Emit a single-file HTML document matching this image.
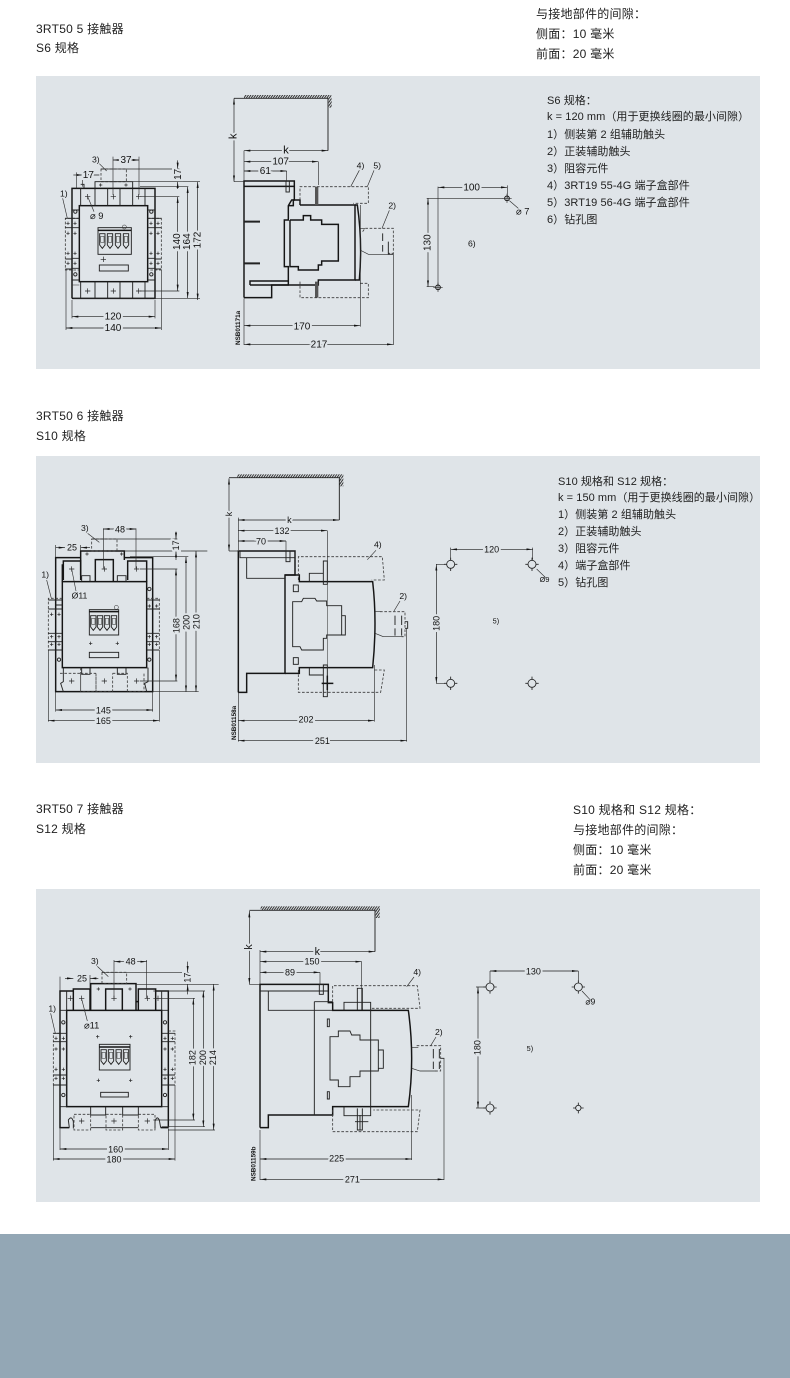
<!DOCTYPE html>
<html><head><meta charset="utf-8"><style>
html,body{margin:0;padding:0;background:#fff}
svg{display:block}
text{font-family:"Liberation Sans","Noto Sans CJK SC",sans-serif;fill:#222}
.h{font-size:12px;letter-spacing:.25px;-webkit-text-stroke:.35px #222}
.x{font-size:11px;letter-spacing:.06px;-webkit-text-stroke:.15px #222}
.n{font-size:27px;paint-order:stroke;stroke:#dfe4e8;stroke-width:12px;text-anchor:middle;fill:#111}
.g1 .n{font-size:30px}
.l{font-size:26px;fill:#111}
.s{font-size:19px;fill:#111;font-weight:bold}
.t{fill:none;stroke:#151515;stroke-width:4.4}
.m{fill:none;stroke:#222;stroke-width:2.8}
.f{fill:none;stroke:#333;stroke-width:1.6}
.d{fill:none;stroke:#3a3a3a;stroke-width:2.4;stroke-dasharray:8 5}
.a{fill:none;stroke:#1c1c1c;stroke-width:2;marker-start:url(#ar);marker-end:url(#ar)}
.o{fill:none;stroke:#1c1c1c;stroke-width:2;marker-end:url(#ar)}
.q{fill:none;stroke:#2a2a2a;stroke-width:1.9}
.g{fill:url(#hat);stroke:none}
</style></head><body>
<svg width="790" height="1378" viewBox="0 0 790 1378" xmlns="http://www.w3.org/2000/svg">
<defs>
<marker id="ar" markerUnits="userSpaceOnUse" markerWidth="20" markerHeight="10" refX="19" refY="5" orient="auto-start-reverse"><path d="M0 2L19 5L0 8Z" fill="#111"/></marker>
<pattern id="hat" width="6" height="6" patternUnits="userSpaceOnUse" patternTransform="rotate(35)"><rect width="3" height="6" fill="#333"/></pattern>
<g id="p"><path d="M-8 0H8M0 -8V8" stroke="#222" stroke-width="2" fill="none"/></g>
<g id="sp"><path d="M-5 0H5M0 -5V5" stroke="#222" stroke-width="2" fill="none"/></g>
<g id="fuse"><path class="m" d="M0 0H16V34L8 44L0 34Z"/><rect x="3" y="8" width="10" height="18" class="f"/></g>
</defs>
<rect x="36" y="76" width="724" height="293" fill="#dfe4e8"/>
<rect x="36" y="456" width="724" height="307" fill="#dfe4e8"/>
<rect x="36" y="889" width="724" height="313" fill="#dfe4e8"/>
<rect x="0" y="1234" width="790" height="144" fill="#93a7b5"/>

<!-- Headings -->
<text class="h" x="36" y="33">3RT50 5 接触器</text>
<text class="h" x="36" y="52">S6 规格</text>
<text class="h" x="36" y="420">3RT50 6 接触器</text>
<text class="h" x="36" y="440">S10 规格</text>
<text class="h" x="36" y="813">3RT50 7 接触器</text>
<text class="h" x="36" y="833">S12 规格</text>
<text class="h" x="536" y="18">与接地部件的间隙：</text>
<text class="h" x="536" y="38">侧面：10 毫米</text>
<text class="h" x="536" y="58">前面：20 毫米</text>
<text class="h" x="573" y="814">S10 规格和 S12 规格：</text>
<text class="h" x="573" y="834">与接地部件的间隙：</text>
<text class="h" x="573" y="854">侧面：10 毫米</text>
<text class="h" x="573" y="874">前面：20 毫米</text>

<!-- Notes -->
<g class="x">
<text x="547" y="104">S6 规格：</text>
<text x="547" y="120">k = 120 mm（用于更换线圈的最小间隙）</text>
<text x="547" y="138">1）侧装第 2 组辅助触头</text>
<text x="547" y="155">2）正装辅助触头</text>
<text x="547" y="172">3）阻容元件</text>
<text x="547" y="189">4）3RT19 55-4G 端子盒部件</text>
<text x="547" y="206">5）3RT19 56-4G 端子盒部件</text>
<text x="547" y="223">6）钻孔图</text>
<text x="558" y="485">S10 规格和 S12 规格：</text>
<text x="558" y="501">k = 150 mm（用于更换线圈的最小间隙）</text>
<text x="558" y="518">1）侧装第 2 组辅助触头</text>
<text x="558" y="535">2）正装辅助触头</text>
<text x="558" y="552">3）阻容元件</text>
<text x="558" y="569">4）端子盒部件</text>
<text x="558" y="586">5）钻孔图</text>
</g>

<!-- Panel 1 -->
<g class="g1" transform="translate(40,85) scale(.33333)">
<!-- front -->
<path class="t" d="M96 640V310H345V640H96"/>
<rect class="t" x="118" y="362" width="205" height="228"/>
<path class="m" d="M122 362V310M165 362V310M203 362V310M240 362V310M278 362V310M315 362V310M122 590V640M165 590V640M203 590V640M240 590V640M278 590V640M315 590V640"/>
<path class="m" d="M165 310V290H278V310M122 298H132V310"/>
<rect class="d" x="183" y="252" width="76" height="38"/>
<path class="d" d="M118 400H76V555H118M323 400H364V555H323"/>
<path class="m" d="M96 375H118M96 400H118M96 428H118M96 520H118M96 550H118M96 585H118M323 375H345M323 400H345M323 428H345M323 520H345M323 550H345M323 585H345M345 400H364M345 428H364M345 522H364M345 552H364M76 400H96M76 428H96M76 522H96M76 552H96"/>
<path class="f" d="M96 600H118M96 590"/>
<use href="#sp" x="84" y="415"/><use href="#sp" x="105" y="415"/><use href="#sp" x="84" y="445"/><use href="#sp" x="105" y="445"/><use href="#sp" x="84" y="505"/><use href="#sp" x="105" y="505"/><use href="#sp" x="84" y="535"/><use href="#sp" x="105" y="535"/>
<use href="#sp" x="333" y="415"/><use href="#sp" x="354" y="415"/><use href="#sp" x="333" y="445"/><use href="#sp" x="354" y="445"/><use href="#sp" x="333" y="505"/><use href="#sp" x="354" y="505"/><use href="#sp" x="333" y="535"/><use href="#sp" x="354" y="535"/>
<circle class="m" cx="106" cy="380" r="5"/><circle class="m" cx="106" cy="568" r="5"/><circle class="m" cx="334" cy="380" r="5"/><circle class="m" cx="334" cy="568" r="5"/>
<use href="#p" x="143" y="335"/><use href="#p" x="220" y="335"/><use href="#p" x="296" y="335"/>
<use href="#p" x="143" y="618"/><use href="#p" x="220" y="618"/><use href="#p" x="296" y="618"/>
<use href="#sp" x="182" y="300"/><use href="#sp" x="258" y="300"/>
<rect class="m" x="174" y="428" width="100" height="80"/>
<path class="t" d="M174 436H274"/>
<use href="#fuse" x="179" y="446"/><use href="#fuse" x="202" y="446"/><use href="#fuse" x="226" y="446"/><use href="#fuse" x="250" y="446"/>
<circle class="f" cx="253" cy="426" r="6"/>
<use href="#p" x="190" y="523"/>
<rect class="m" x="178" y="540" width="87" height="18"/>
<path class="q" d="M96 645V700M345 645V700M78 555V735M364 555V735M219 215V330M297 215V330M110 262V310M128 262V305"/>
<path class="q" d="M183 252H418M165 290H480M300 305H445M300 335H418M300 618H418M100 640H480"/>
<path class="a" d="M96 695H345"/><text class="n" x="219" y="704">120</text>
<path class="a" d="M78 729H364"/><text class="n" x="219" y="738">140</text>
<path class="a" d="M219 225H297"/><text class="n" x="258" y="234">37</text>
<path class="o" d="M100 270H128"/><path class="o" d="M178 270H128"/><text class="n" x="145" y="279">17</text>
<path class="o" d="M413 226V252"/><path class="o" d="M413 312V290"/><text class="n" transform="translate(423,268) rotate(-90)">17</text>
<path class="a" d="M413 335V618"/><text class="n" transform="translate(420,470) rotate(-90)">140</text>
<path class="a" d="M443 305V640"/><text class="n" transform="translate(450,470) rotate(-90)">164</text>
<path class="a" d="M473 290V645"/><text class="n" transform="translate(481,465) rotate(-90)">172</text>
<text class="l" x="156" y="232">3)</text><path class="q" d="M178 236L200 258"/>
<text class="l" x="60" y="334">1)</text><path class="q" d="M68 340L82 400"/>
<text class="l" x="150" y="402" style="font-size:28px">⌀ 9</text><path class="q" d="M143 335L162 380"/>
<!-- side -->
<path class="t" d="M612 638V288H763V345H755L745 362V405H733V545H745V600H695V638H612"/>
<path class="t" d="M630 600H745M780 360H945V585H835V600H745"/>
<path class="t" d="M745 362H760V345H780V360M945 360L952 360Q968 470 958 585H945M630 600V588H745"/>
<path class="t" d="M612 304H763"/>
<path class="t" d="M750 405H790V392H812V405H845V418H895V528H845V540H835V555H775V545H750V405"/>
<path d="M612 410H660M612 535H660" stroke="#222" stroke-width="6"/>
<path d="M830 305V360M830 590V638" stroke="#555" stroke-width="10"/>
<rect class="m" x="738" y="288" width="10" height="33"/>
<path class="d" d="M780 345V305H985L985 355H940M780 590V638H985L985 595H958"/>
<path class="q" d="M960 430H975M960 495L985 508H1048"/>
<path class="d" d="M968 440L975 430H1060V505H1045"/>
<path class="m" d="M1028 445V468M1028 480V500M1045 470V508H1060"/>
<rect class="g" x="612" y="30" width="262" height="10"/>
<path class="m" d="M582 40H864V197M864 40V66"/><rect class="g" x="866" y="40" width="9" height="28"/>
<path class="q" d="M582 290H612M612 197V288M835 230V300M740 258V290M612 640V780M961 360V725M1060 505V780"/>
<path class="a" d="M582 40V290"/><text class="n" transform="translate(590,154) rotate(-90)" style="font-size:34px">k</text>
<path class="a" d="M612 197H864"/><text class="n" x="738" y="206" style="font-size:34px">k</text>
<path class="a" d="M612 230H835"/><text class="n" x="722" y="239">107</text>
<path class="a" d="M612 258H740"/><text class="n" x="676" y="267">61</text>
<path class="a" d="M612 722H961"/><text class="n" x="786" y="733">170</text>
<path class="a" d="M612 778H1060"/><text class="n" x="837" y="788">217</text>
<text class="s" transform="translate(600,780) rotate(-90)">NSB01171a</text>
<text class="l" x="950" y="250">4)</text><path class="q" d="M958 256L932 305"/>
<text class="l" x="1000" y="250">5)</text><path class="q" d="M1002 256L982 305"/>
<text class="l" x="1045" y="370">2)</text><path class="q" d="M1048 376L1026 430"/>
</g>
<!-- Drill 1 -->
<g class="g1" transform="translate(420,170) scale(.33333)">
<path class="q" d="M54 50V350M262 46V85M20 85H250M20 350H44M268 92L295 115"/>
<path class="a" d="M54 52H262"/><text class="n" x="155" y="62">100</text>
<path class="a" d="M24 85V350"/><text class="n" transform="translate(32,218) rotate(-90)">130</text>
<circle cx="54" cy="352" r="7" fill="none" stroke="#111" stroke-width="3"/><path class="q" d="M40 352H68M54 338V366"/>
<circle cx="261" cy="85" r="7" fill="none" stroke="#111" stroke-width="3"/><path class="q" d="M247 85H275M261 71V99"/>
<text class="l" x="288" y="134" style="font-size:28px">⌀ 7</text>
<text class="l" x="144" y="229">6)</text>
</g>

<!-- Panel 2 -->
<g transform="translate(40,465) scale(.33333)">
<path class="t" d="M122 278H47V680H338V278H253M122 345V258H253V285"/>
<path class="t" d="M67 350H320V608H67Z"/>
<path class="t" d="M67 350V300H70V288H122M320 350V288H263V345M166 350V284H220V350M122 330V285M70 345V288"/>
<rect class="d" x="155" y="222" width="76" height="36"/>
<path class="d" d="M67 400H25V555H67M320 400H358V555H320"/>
<path class="m" d="M47 420H67M47 435M25 405H67M25 432H67M25 505H67M25 530H67M25 555H67M320 405H358M320 432H358M320 505H358M320 530H358M320 555H358"/>
<path class="m" d="M125 350V332H150V350M232 350V332H258V350M125 608V628H150V608M232 608V628H258V608M70 680L62 655L70 650V608M320 680L314 655L324 650V608"/>
<path class="d" d="M60 625H122V680M122 608V680H168V625M218 625H262V680H312V625M122 625H168M168 625V680H218V625"/>
<use href="#sp" x="35" y="448"/><use href="#sp" x="57" y="448"/><use href="#sp" x="35" y="515"/><use href="#sp" x="57" y="515"/><use href="#sp" x="35" y="538"/><use href="#sp" x="57" y="538"/><use href="#sp" x="328" y="423"/><use href="#sp" x="350" y="423"/><use href="#sp" x="328" y="515"/><use href="#sp" x="350" y="515"/><use href="#sp" x="328" y="538"/><use href="#sp" x="350" y="538"/>
<circle class="m" cx="57" cy="584" r="5"/><circle class="m" cx="328" cy="584" r="5"/><circle class="m" cx="328" cy="372" r="5"/>
<use href="#p" x="95" y="312"/><use href="#p" x="193" y="312"/><use href="#p" x="290" y="312"/>
<use href="#p" x="95" y="648"/><use href="#p" x="193" y="648"/><use href="#p" x="290" y="648"/>
<use href="#sp" x="141" y="267"/><use href="#sp" x="245" y="267"/>
<rect class="m" x="148" y="434" width="88" height="76"/><path class="t" d="M148 440H236"/>
<use href="#fuse" x="152" y="452"/><use href="#fuse" x="172" y="452"/><use href="#fuse" x="193" y="452"/><use href="#fuse" x="214" y="452"/>
<circle class="f" cx="229" cy="427" r="6"/>
<use href="#sp" x="152" y="535"/><use href="#sp" x="232" y="535"/>
<rect class="m" x="148" y="562" width="88" height="16"/>
<path class="q" d="M47 680V740M338 680V740M25 555V770M358 555V770M190 190V310M288 190V310M47 240V278M122 240V258"/>
<path class="q" d="M155 222H412M253 258H502M270 275H445M300 312H412M300 648H412M338 680H476"/>
<path class="a" d="M47 735H338"/><text class="n" x="190" y="745">145</text>
<path class="a" d="M25 767H358"/><text class="n" x="190" y="777">165</text>
<path class="a" d="M190 192H288"/><text class="n" x="240" y="202">48</text>
<path class="o" d="M47 248H75"/><path class="o" d="M150 248H122"/><text class="n" x="96" y="257">25</text>
<path class="o" d="M408 200V222"/><path class="o" d="M408 285V258"/><text class="n" transform="translate(417,241) rotate(-90)">17</text>
<path class="a" d="M408 312V648"/><text class="n" transform="translate(418,482) rotate(-90)">168</text>
<path class="a" d="M438 275V680"/><text class="n" transform="translate(448,472) rotate(-90)">200</text>
<path class="a" d="M468 258V680"/><text class="n" transform="translate(478,470) rotate(-90)">210</text>
<text class="l" x="123" y="198">3)</text><path class="q" d="M143 205L178 232"/>
<text class="l" x="4" y="338">1)</text><path class="q" d="M20 345L34 400"/>
<text class="l" x="95" y="400" style="font-size:26px">Ø11</text><path class="q" d="M95 312L108 378"/>
<!-- side -->
<path class="t" d="M595 682V258H765V330H735V625H620V682H595"/>
<path class="t" d="M735 330H778V350H998Q1012 470 998 608H778V625H735"/>
<path class="m" d="M620 278V340H735M600 258V278H765M765 258V285"/>
<path class="m" d="M758 410H785L790 400H825L830 408H860V422H905V510H860V520H850V555H785L780 545H758ZM905 452H916V510H905"/>
<path class="m" d="M808 350V325H850M808 608V630H850M862 288V358H850V288ZM862 600V695H850V600Z"/>
<rect class="m" x="760" y="360" width="15" height="20"/><rect class="m" x="760" y="578" width="15" height="20"/>
<rect class="m" x="738" y="258" width="12" height="32"/>
<path class="d" d="M775 345V275H1027L1033 345H995M775 615V682H1022L1033 615H1000"/>
<path class="f" d="M862 350V690"/>
<path class="t" d="M845 655H880M862 632V675"/>
<path class="q" d="M1005 440H1022M1005 505L1030 515H1090"/>
<path class="d" d="M1020 440H1095V478M1095 480V515H1085"/>
<path class="m" d="M1065 452V480M1065 490V512M1085 452V480M1085 490V512M1095 470H1103V490H1095"/>
<rect class="g" x="592" y="28" width="318" height="11"/>
<rect class="g" x="898" y="40" width="12" height="24"/>
<path class="m" d="M567 38H898V165"/>
<path class="q" d="M567 258H595M595 158V255M862 197V350M738 228V260M595 682V830M1003 600V770M1100 490V830"/>
<path class="a" d="M567 40V258"/><text class="n" transform="translate(576,147) rotate(-90)">k</text>
<path class="a" d="M595 165H898"/><text class="n" x="748" y="174">k</text>
<path class="a" d="M595 197H862"/><text class="n" x="726" y="207">132</text>
<path class="a" d="M595 228H738"/><text class="n" x="663" y="238">70</text>
<path class="a" d="M595 767H1003"/><text class="n" x="798" y="773">202</text>
<path class="a" d="M595 827H1100"/><text class="n" x="847" y="837">251</text>
<text class="s" transform="translate(588,825) rotate(-90)">NSB01158a</text>
<text class="l" x="1002" y="248">4)</text><path class="q" d="M1008 256L982 284"/>
<text class="l" x="1078" y="402">2)</text><path class="q" d="M1080 408L1062 438"/>
</g>
<!-- Drill 2 -->
<g transform="translate(425,535) scale(.33333)">
<path class="q" d="M77 38V74M323 38V74M33 88H60M33 445H60M335 102L362 128"/>
<path class="a" d="M77 43H323"/><text class="n" x="200" y="52">120</text>
<path class="a" d="M34 88V445"/><text class="n" transform="translate(43,265) rotate(-90)">180</text>
<g fill="none" stroke="#222" stroke-width="2.6">
<circle cx="77" cy="88" r="12"/><path d="M77 68V76M77 100V108M57 88H65M89 88H97"/>
<circle cx="321" cy="88" r="12"/><path d="M321 68V76M321 100V108M301 88H309M333 88H341"/>
<circle cx="77" cy="445" r="12"/><path d="M77 425V433M77 457V465M57 445H65M89 445H97"/>
<circle cx="321" cy="445" r="12"/><path d="M321 425V433M321 457V465M301 445H309M333 445H341"/>
</g>
<text class="l" x="344" y="141" style="font-size:22px">Ø9</text>
<text class="l" x="203" y="265" style="font-size:22px">5)</text>
</g>

<!-- Panel 3 -->
<g transform="translate(40,895) scale(.33333)">
<path class="t" d="M100 288H60V698H88M385 698V288H347M362 698H385"/>
<path class="t" d="M80 346H365V635H80Z"/>
<path class="t" d="M100 346V282H150V346M197 346V282H247V346M295 346V282H347V346M152 320V266H288V320H295M152 346V320M288 346V320"/>
<path class="m" d="M80 346V288M365 346V288M60 346H80M365 346H385M60 635H80M365 635H385"/>
<rect class="d" x="186" y="232" width="74" height="34"/>
<path class="d" d="M60 415H40V570H60M385 408H405V570H385"/>
<path class="m" d="M40 415H80M40 440H80M40 540H80M40 570H80M365 415H405M365 440H405M365 540H405M365 570H405M80 372V635"/>
<path class="m" d="M152 635V660H197V635M248 635V660H295V635M88 698L85 675Q95 660 100 680V700M362 698L358 675Q350 660 345 680V700M152 698H295"/>
<path class="d" d="M102 658H152V705H102ZM198 658H248V705H198ZM295 658H345V705H295Z"/>
<use href="#sp" x="48" y="430"/><use href="#sp" x="70" y="430"/><use href="#sp" x="48" y="462"/><use href="#sp" x="70" y="462"/><use href="#sp" x="48" y="523"/><use href="#sp" x="70" y="523"/><use href="#sp" x="48" y="550"/><use href="#sp" x="70" y="550"/>
<use href="#sp" x="375" y="430"/><use href="#sp" x="397" y="430"/><use href="#sp" x="375" y="462"/><use href="#sp" x="397" y="462"/><use href="#sp" x="375" y="523"/><use href="#sp" x="397" y="523"/><use href="#sp" x="375" y="550"/><use href="#sp" x="397" y="550"/>
<circle class="m" cx="70" cy="382" r="5"/><circle class="m" cx="70" cy="600" r="5"/><circle class="m" cx="375" cy="382" r="5"/><circle class="m" cx="375" cy="600" r="5"/>
<use href="#p" x="91" y="310"/><use href="#p" x="125" y="310"/><use href="#p" x="222" y="310"/><use href="#p" x="322" y="310"/><use href="#p" x="354" y="310"/>
<use href="#p" x="125" y="678"/><use href="#p" x="222" y="678"/><use href="#p" x="322" y="678"/>
<use href="#sp" x="175" y="282"/><use href="#sp" x="270" y="282"/>
<use href="#sp" x="173" y="425"/><use href="#sp" x="272" y="425"/><use href="#sp" x="175" y="556"/><use href="#sp" x="272" y="556"/>
<rect class="m" x="178" y="448" width="92" height="77"/><path class="t" d="M178 456H270"/>
<use href="#fuse" x="183" y="464"/><use href="#fuse" x="205" y="464"/><use href="#fuse" x="228" y="464"/><use href="#fuse" x="250" y="464"/>
<rect class="m" x="182" y="592" width="83" height="14"/>
<path class="q" d="M60 700V765M385 700V765M40 570V797M405 570V797M222 195V310M320 195V310M60 245V288M150 240V282"/>
<path class="q" d="M186 232H446M288 268H536M340 288H495M340 310H465M340 675H465M365 695H495M385 705H525"/>
<path class="a" d="M60 762H385"/><text class="n" x="227" y="772">160</text>
<path class="a" d="M40 792H405"/><text class="n" x="222" y="802">180</text>
<path class="a" d="M222 200H320"/><text class="n" x="272" y="208">48</text>
<path class="o" d="M75 250H100"/><path class="o" d="M175 250H150"/><text class="n" x="126" y="260">25</text>
<path class="o" d="M443 200V232"/><path class="o" d="M443 298V268"/><text class="n" transform="translate(452,248) rotate(-90)">17</text>
<path class="a" d="M460 310V675"/><text class="n" transform="translate(466,488) rotate(-90)">182</text>
<path class="a" d="M490 288V695"/><text class="n" transform="translate(498,488) rotate(-90)">200</text>
<path class="a" d="M521 268V705"/><text class="n" transform="translate(528,488) rotate(-90)">214</text>
<text class="l" x="153" y="207">3)</text><path class="q" d="M172 214L205 245"/>
<text class="l" x="25" y="350">1)</text><path class="q" d="M32 355L46 415"/>
<text class="l" x="132" y="400" style="font-size:28px">⌀11</text><path class="q" d="M125 312L142 378"/>
<!-- side -->
<path class="t" d="M660 698V268H865V323H878V346H1105Q1125 490 1105 635H878V660H685V698H660"/>
<path class="m" d="M685 288V346H878M660 288H865M823 320H878M823 320V660"/>
<path class="m" d="M870 425H895V408H930L935 420H960V435H1015V528H960V545H930V575H895V555H870ZM1015 465H1030V520H1015M862 372H868V395H862ZM862 590H868V612H862Z"/>
<path class="m" d="M912 346V322H992V346M912 635V662H992V635M952 345V280H967V345M952 640V705H967V640M992 322V660"/>
<rect class="m" x="838" y="268" width="12" height="30"/>
<path class="d" d="M878 320V272H1132L1140 340H992M878 645V710H1132L1140 645H1000"/>
<path class="m" d="M945 680H985M960 660V705"/>
<path class="q" d="M1115 458H1135M1115 520L1140 528H1190"/>
<path class="d" d="M1130 452H1202V528H1185"/>
<path class="m" d="M1180 462V490M1180 500V522M1198 462V490M1198 500V522M1202 490H1213"/>
<rect class="g" x="662" y="34" width="358" height="11"/>
<rect class="g" x="1007" y="45" width="12" height="24"/>
<path class="m" d="M628 46H1005V170"/>
<path class="q" d="M628 268H660M660 165V268M965 200V345M840 232V268M660 705V855M1115 600V795M1212 490V855"/>
<path class="a" d="M628 48V268"/><text class="n" transform="translate(636,156) rotate(-90)" style="font-size:32px">k</text>
<path class="a" d="M660 170H1005"/><text class="n" x="832" y="180" style="font-size:32px">k</text>
<path class="a" d="M660 200H965"/><text class="n" x="816" y="209">150</text>
<path class="a" d="M660 232H840"/><text class="n" x="750" y="241">89</text>
<path class="a" d="M660 792H1115"/><text class="n" x="890" y="800">225</text>
<path class="a" d="M660 853H1212"/><text class="n" x="937" y="862">271</text>
<text class="s" transform="translate(646,858) rotate(-90)">NSB01159b</text>
<text class="l" x="1120" y="240">4)</text><path class="q" d="M1122 246L1100 275"/>
<text class="l" x="1185" y="420">2)</text><path class="q" d="M1188 426L1172 452"/>
</g>
<!-- Drill 3 -->
<g transform="translate(470,965) scale(.33333)">
<path class="q" d="M60 18V55M325 18V55M18 66H46M18 429H46M336 78L362 106"/>
<path class="a" d="M60 18H325"/><text class="n" x="190" y="28">130</text>
<path class="a" d="M24 66V429"/><text class="n" transform="translate(32,248) rotate(-90)">180</text>
<g fill="none" stroke="#222" stroke-width="2.6">
<circle cx="60" cy="66" r="12"/><path d="M60 46V54M60 78V86M40 66H48M72 66H80"/>
<circle cx="325" cy="66" r="12"/><path d="M325 46V54M325 78V86M305 66H313M337 66H345"/>
<circle cx="60" cy="429" r="12"/><path d="M60 409V417M60 441V449M40 429H48M72 429H80"/>
<circle cx="325" cy="429" r="8"/><path d="M325 413V421M325 437V445M309 429H317M333 429H341"/>
</g>
<text class="l" x="346" y="118">⌀9</text>
<text class="l" x="170" y="258" style="font-size:22px">5)</text>
</g>
</svg>
</body></html>
